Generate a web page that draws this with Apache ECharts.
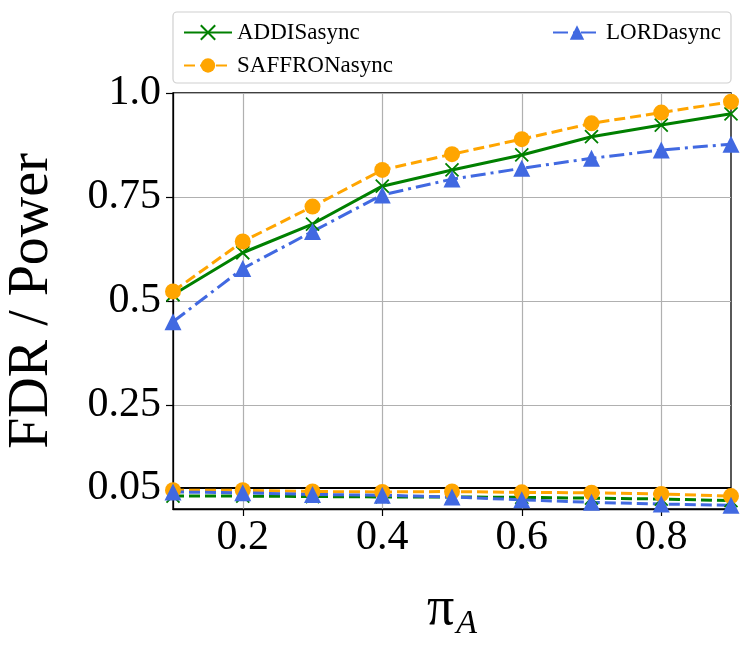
<!DOCTYPE html>
<html>
<head>
<meta charset="utf-8">
<script src="https://cdn.jsdelivr.net/npm/echarts@6/dist/echarts.min.js"></script>
<style>html,body{margin:0;padding:0;background:#fff}#c{width:748px;height:645px}</style>
</head>
<body>
<div id="c"></div>
<script>
var piA = [0.1, 0.2, 0.3, 0.4, 0.5, 0.6, 0.7, 0.8, 0.9];
var powerADDIS   = [0.515, 0.616, 0.685, 0.776, 0.815, 0.851, 0.895, 0.923, 0.950];
var powerSAFFRON = [0.523, 0.643, 0.727, 0.815, 0.853, 0.889, 0.927, 0.953, 0.979];
var powerLORD    = [0.450, 0.578, 0.667, 0.755, 0.793, 0.819, 0.843, 0.863, 0.877];
var fdrADDIS     = [0.031, 0.031, 0.030, 0.029, 0.029, 0.028, 0.026, 0.024, 0.020];
var fdrSAFFRON   = [0.045, 0.045, 0.042, 0.041, 0.042, 0.040, 0.039, 0.036, 0.031];
var fdrLORD      = [0.041, 0.039, 0.035, 0.033, 0.029, 0.022, 0.016, 0.012, 0.009];
var alphaLevel = 0.05;
var xTicks = [0.2, 0.4, 0.6, 0.8];
var yTicks = [0.05, 0.25, 0.5, 0.75, 1.0];
var yTickLabels = ['0.05', '0.25', '0.5', '0.75', '1.0'];
var names = ['ADDISasync', 'SAFFRONasync', 'LORDasync'];

function pairs(ys) { return piA.map(function (x, i) { return [x, ys[i]]; }); }

var FONT = 'Liberation Serif';
var GREEN = '#008000', ORANGE = '#FFA500', BLUE = '#4169E1';
var XSYM = 'path://M0,0L10,10M10,0L0,10';

function mk(name, data, color, symbol, size, lineType, isX) {
  return {
    name: name, type: 'line', data: pairs(data),
    symbol: symbol, symbolSize: size, showSymbol: true,
    lineStyle: { color: color, width: 3, type: lineType },
    itemStyle: isX ? { color: color, borderColor: color, borderWidth: 1.8 } : { color: color, borderWidth: 0 },
    clip: true, z: 3
  };
}

var series = [
  mk(names[0], powerADDIS, GREEN, XSYM, 13, 'solid', true),
  mk(names[1], powerSAFFRON, ORANGE, 'circle', 16, [11, 5], false),
  mk(names[2], powerLORD, BLUE, 'triangle', 17, [15, 5, 3, 5], false),
  mk(names[0], fdrADDIS, GREEN, XSYM, 13, [11, 5], true),
  mk(names[1], fdrSAFFRON, ORANGE, 'circle', 16, [11, 5], false),
  mk(names[2], fdrLORD, BLUE, 'triangle', 17, [11, 5], false)
];
series[0].markLine = {
  silent: true, symbol: 'none', label: { show: false },
  lineStyle: { color: '#000', width: 2, type: 'solid' },
  data: [{ yAxis: alphaLevel }], z: 2
};

var chart = echarts.init(document.getElementById('c'), null, { renderer: 'canvas' });
chart.setOption({
  animation: false,
  backgroundColor: '#fff',
  grid: { left: 173, top: 93, width: 558, height: 416, outerBoundsMode: 'none', containLabel: false,
    show: true, borderColor: '#000', borderWidth: 1.3, backgroundColor: 'transparent' },
  graphic: [{
    type: 'rect', shape: { x: 173, y: 12, width: 558, height: 71, r: 4 },
    style: { fill: '#fff', stroke: '#d0d0d0', lineWidth: 1.2 }, z: -1
  }],
  legend: [{
    data: [names[0], names[1]], orient: 'vertical', left: 178, top: 16,
    itemWidth: 48, itemHeight: 18, itemGap: 10,
    textStyle: { fontFamily: FONT, fontSize: 23, color: '#000' }
  }, {
    data: [names[2]], orient: 'vertical', left: 547, top: 16,
    itemWidth: 48, itemHeight: 18, itemGap: 10,
    textStyle: { fontFamily: FONT, fontSize: 23, color: '#000' }
  }],
  xAxis: {
    type: 'value', min: 0.1, max: 0.9,
    name: '{p|π}{s|A}', nameLocation: 'middle', nameGap: 70,
    nameTextStyle: {
      rich: {
        p: { fontFamily: FONT, fontSize: 54, color: '#000', lineHeight: 58, verticalAlign: 'bottom' },
        s: { fontFamily: FONT, fontSize: 34, fontStyle: 'italic', color: '#000', lineHeight: 34, verticalAlign: 'bottom', padding: [0, 0, -4, 2] }
      }
    },
    axisLine: { show: true, lineStyle: { color: '#000', width: 1.3 } },
    axisTick: { show: true, length: 7, lineStyle: { color: '#000', width: 1.2 }, customValues: xTicks },
    axisLabel: { customValues: xTicks, fontFamily: FONT, fontSize: 42, color: '#000', margin: 8,
      formatter: function (v) { return v.toFixed(1); } },
    splitLine: { show: true, lineStyle: { color: '#b0b0b0', width: 1.2 } }
  },
  yAxis: {
    type: 'value', min: 0, max: 1,
    name: 'FDR / Power', nameLocation: 'middle', nameGap: 113,
    nameTextStyle: { fontFamily: FONT, fontSize: 56, color: '#000' },
    axisLine: { show: true, lineStyle: { color: '#000', width: 1.3 } },
    axisTick: { show: true, length: 7, lineStyle: { color: '#000', width: 1.2 }, customValues: yTicks },
    axisLabel: { customValues: yTicks, fontFamily: FONT, fontSize: 42, color: '#000', margin: 12,
      formatter: function (v) { var i = yTicks.indexOf(v); return i >= 0 ? yTickLabels[i] : ''; } },
    splitLine: { show: true, lineStyle: { color: '#b0b0b0', width: 1.2 } }
  },
  series: series
});
</script>
</body>
</html>
